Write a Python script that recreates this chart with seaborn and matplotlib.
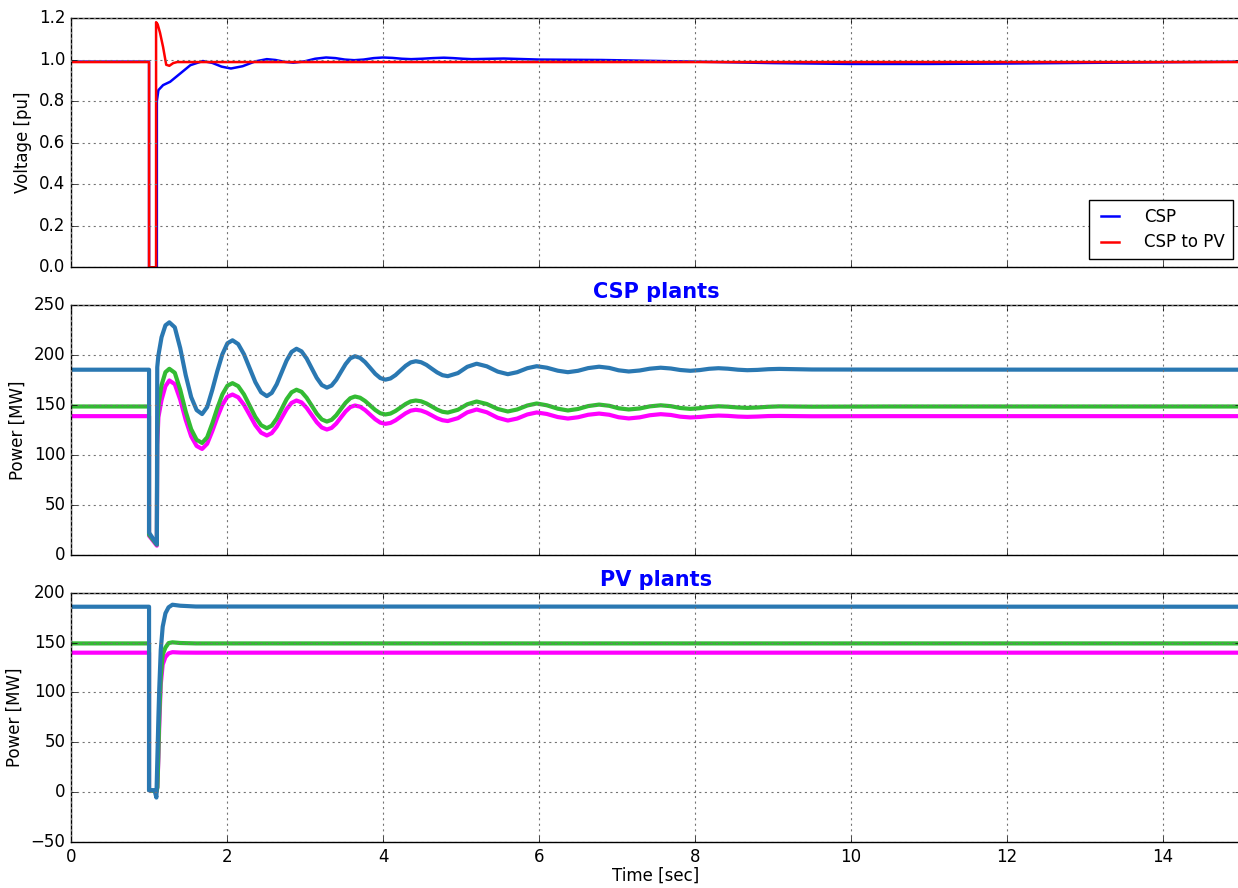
import pandas as pd
import matplotlib
matplotlib.use('Agg')
import matplotlib.pyplot as plt
from matplotlib.ticker import MultipleLocator
import seaborn as sns

plt.style.use('classic')
plt.rcParams['figure.facecolor'] = 'white'
plt.rcParams['savefig.facecolor'] = 'white'
plt.rcParams['font.family'] = ['DejaVu Sans']

# --- voltage panel ---
t_v_csp = [0, 1.0, 1.0, 1.1, 1.1, 1.12, 1.18, 1.27, 1.40, 1.53, 1.69, 1.81, 1.93, 2.05,
           2.20, 2.36, 2.51, 2.62, 2.74, 2.85, 2.99, 3.13, 3.27, 3.39, 3.51, 3.63, 3.75,
           3.88, 4.0, 4.12, 4.24, 4.36, 4.5, 4.64, 4.78, 4.9, 5.02, 5.14, 5.28, 5.41,
           5.55, 6.0, 6.8, 8.0, 9.0, 10.0, 11.0, 12.0, 13.0, 14.0, 15.0]
v_csp = [0.99, 0.99, 0.0, 0.0, 0.80, 0.853, 0.877, 0.893, 0.933, 0.973, 0.993, 0.984, 0.966, 0.957,
         0.968, 0.991, 1.002, 0.998, 0.989, 0.985, 0.991, 1.004, 1.010, 1.007, 1.0, 0.997, 1.0,
         1.007, 1.010, 1.008, 1.004, 1.002, 1.004, 1.007, 1.009, 1.007, 1.004, 1.002, 1.003, 1.004,
         1.005, 1.0, 0.998, 0.99, 0.983, 0.979, 0.979, 0.981, 0.984, 0.987, 0.99]

t_v_pv = [0, 1.0, 1.0, 1.09, 1.09, 1.11, 1.14, 1.18, 1.22, 1.26, 1.31, 1.36, 15.0]
v_csp_pv = [0.988, 0.988, 0.0, 0.0, 1.18, 1.17, 1.13, 1.06, 0.975, 0.970, 0.983, 0.988, 0.988]

# --- CSP plants power ---
t_csp = [0, 1.0, 1.0, 1.1, 1.105, 1.12, 1.16, 1.21, 1.26,
         1.33, 1.40, 1.47, 1.54, 1.61, 1.68,
         1.745, 1.81, 1.875, 1.94, 2.005, 2.07,
         2.143, 2.217, 2.29, 2.363, 2.437, 2.51,
         2.573, 2.637, 2.70, 2.763, 2.827, 2.89,
         2.955, 3.02, 3.085, 3.15, 3.215, 3.28,
         3.34, 3.40, 3.46, 3.52, 3.58, 3.64,
         3.705, 3.77, 3.835, 3.90, 3.965, 4.03,
         4.095, 4.16, 4.225, 4.29, 4.355, 4.42,
         4.488, 4.557, 4.625, 4.693, 4.762, 4.83,
         4.96, 5.08, 5.2, 5.33, 5.47, 5.6, 5.72, 5.85, 5.97, 6.1,
         6.24, 6.37, 6.5, 6.63, 6.77, 6.9, 7.02, 7.15, 7.29, 7.42,
         7.56, 7.69, 7.81, 7.94, 8.06, 8.18, 8.3, 8.42, 8.55, 8.67,
         8.8, 8.94, 9.08, 9.5, 10.5, 15.0]
p_csp_1 = [185.5, 185.5, 22, 10.5, 188, 200, 218, 230, 233,
           228, 207, 180, 158, 145, 141,
           148, 165, 184, 201, 212, 215,
           211.2, 201, 187, 173, 162.8, 159,
           162.2, 170.9, 182.8, 194.6, 203.3, 206.5,
           203.9, 196.8, 187, 177.3, 170.1, 167.5,
           169.6, 175.4, 183.3, 191.1, 196.9, 199,
           197.4, 193.1, 187.3, 181.4, 177.1, 175.5,
           176.7, 180.1, 184.8, 189.4, 192.8, 194,
           193, 190.3, 186.5, 182.8, 180, 179,
           182.1, 188.4, 191.5, 188.9, 183.6, 181, 183, 187, 189, 187.5,
           184.5, 183, 184.4, 187.1, 188.5, 187.3, 184.9, 183.7, 184.7, 186.5,
           187.5, 186.7, 185.2, 184.4, 185.1, 186.4, 187, 186.5, 185.5, 185,
           185.3, 186, 186.3, 185.7, 185.6, 185.5]
p_csp_2 = [148.6, 148.6, 20, 10, 120, 150, 170, 183, 186.4,
           182.4, 165.3, 143.5, 125.8, 115.2, 112,
           117.7, 131.4, 146.9, 160.7, 169.5, 172,
           169, 160.7, 149.4, 138.1, 129.8, 126.8,
           129.4, 136.5, 146.1, 155.8, 162.8, 165.4,
           163.3, 157.4, 149.5, 141.5, 135.6, 133.5,
           135.2, 139.8, 146.1, 152.3, 156.9, 158.6,
           157.4, 154.1, 149.6, 145.1, 141.8, 140.6,
           141.5, 144.1, 147.6, 151.1, 153.7, 154.6,
           153.8, 151.6, 148.6, 145.5, 143.3, 142.5,
           145.3, 150.8, 153.6, 151.1, 146.1, 143.6, 145.6, 149.6, 151.6, 149.8,
           146.4, 144.6, 146.1, 149, 150.5, 149.3, 146.8, 145.6, 146.6, 148.7,
           149.8, 148.9, 147.1, 146.2, 146.9, 148.1, 148.8, 148.4, 147.6, 147.2,
           147.6, 148.3, 148.7, 148.4, 148.6, 148.6]
p_csp_3 = [138.9, 138.9, 19, 9, 110, 138, 155, 169, 174.7,
           171, 155.3, 135.1, 118.7, 109, 106,
           111.2, 123.7, 137.7, 150.3, 158.4, 160.6,
           157.8, 150.3, 140.1, 129.8, 122.3, 119.5,
           121.9, 128.3, 137.1, 145.8, 152.2, 154.6,
           152.7, 147.3, 140.1, 132.8, 127.5, 125.5,
           127.1, 131.5, 137.6, 143.6, 148, 149.6,
           148.4, 145, 140.4, 135.8, 132.4, 131.2,
           132.1, 134.7, 138.3, 141.8, 144.4, 145.3,
           144.5, 142.5, 139.7, 136.8, 134.8, 134,
           136.9, 142.7, 145.6, 142.8, 137.3, 134.5, 136.5, 140.6, 142.6, 141.1,
           138, 136.5, 137.8, 140.3, 141.5, 140.3, 137.8, 136.6, 137.7, 139.8,
           140.9, 140.1, 138.4, 137.6, 138.1, 139, 139.5, 139.2, 138.5, 138.2,
           138.5, 139, 139.1, 138.8, 138.9, 138.9]

# --- PV plants power ---
t_pv = [0, 1.0, 1.0, 1.07, 1.094, 1.107, 1.12, 1.13, 1.15, 1.175, 1.21, 1.25, 1.30, 1.40, 1.6, 15.0]
p_pv_1 = [186, 186, 2, 2, -5.4, 35, 75, 102, 142.6, 166, 179.4, 185.4, 188, 187, 186.2, 186]
p_pv_2 = [149.2, 149.2, 2, 1, 0, 5, 40, 75, 115, 138, 145, 149.5, 150.3, 149.6, 149.2, 149.2]
p_pv_3 = [139.9, 139.9, 2, 1, 0, 5, 35, 65, 108, 128, 135.5, 139.2, 140.4, 140, 139.9, 139.9]

c_blue = '#2a78b2'
c_green = '#33bb33'
c_mag = '#ff00ff'
fs = 12

fig, axes = plt.subplots(3, 1, figsize=(12.38, 8.88), dpi=100, sharex=True,
                         gridspec_kw=dict(hspace=0.153))
fig.subplots_adjust(left=0.0574, right=1.0024, bottom=0.0518, top=0.9797)
ax1, ax2, ax3 = axes

sns.lineplot(x=t_v_csp, y=v_csp, ax=ax1, color='b', lw=1.8, estimator=None, sort=False, label='CSP')
sns.lineplot(x=t_v_pv, y=v_csp_pv, ax=ax1, color='r', lw=1.8, estimator=None, sort=False, label='CSP to PV')
ax1.set_ylim(0, 1.2)
ax1.yaxis.set_major_locator(MultipleLocator(0.2))
ax1.set_ylabel('Voltage [pu]', fontsize=fs)
ax1.legend(loc='lower right', fontsize=fs, handlelength=1.7, handletextpad=1.2,
           borderpad=0.45, labelspacing=0.45, fancybox=False)

for ax, t, series in [(ax2, t_csp, [p_csp_3, p_csp_2, p_csp_1]),
                      (ax3, t_pv, [p_pv_3, p_pv_2, p_pv_1])]:
    for vals, col in zip(series, [c_mag, c_green, c_blue]):
        sns.lineplot(x=t, y=vals, ax=ax, color=col, lw=3, estimator=None, sort=False, legend=False)
    ax.set_ylabel('Power [MW]', fontsize=fs)
    ax.yaxis.set_major_locator(MultipleLocator(50))

ax2.set_ylim(0, 250)
ax2.set_title('CSP plants', color='b', fontweight='bold', fontsize=15)
ax3.set_ylim(-50, 200)
ax3.set_title('PV plants', color='b', fontweight='bold', fontsize=15)

for ax in axes:
    ax.set_xlim(0, 15)
    ax.grid(True, color='0.45', lw=0.8, dashes=(1.5, 2.5))
    ax.tick_params(labelsize=fs)
ax3.xaxis.set_major_locator(MultipleLocator(2))
ax3.set_xlabel('Time [sec]', fontsize=fs, labelpad=1)

fig.savefig('out.png', dpi=100)
